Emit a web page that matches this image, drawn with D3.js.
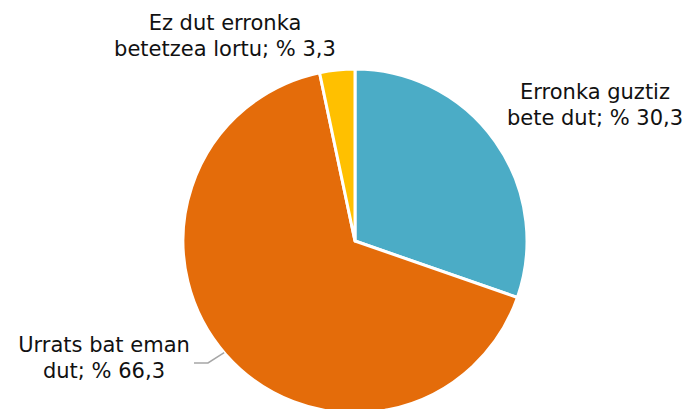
<!DOCTYPE html>
<html><head><meta charset="utf-8">
<script src="https://cdn.jsdelivr.net/npm/d3@7"></script>
<style>body{margin:0;background:#fff;}svg{display:block;}</style>
</head><body>
<svg id="chart" width="692" height="409"></svg>
<script>
const categories = ["Erronka guztiz bete dut", "Urrats bat eman dut", "Ez dut erronka betetzea lortu"];
const values = [30.3, 66.3, 3.3];
const labelLines = [["Erronka guztiz", "bete dut; % 30,3"], ["Urrats bat eman", "dut; % 66,3"], ["Ez dut erronka", "betetzea lortu; % 3,3"]];
const colors = ["#4BACC6", "#E46C0A", "#FFC000"];

const svg = d3.select("#chart");
const cx = 355, cy = 241, r = 172;
const pie = d3.pie().sort(null).value(d => d)(values);
const arc = d3.arc().innerRadius(0).outerRadius(r);
const g = svg.append("g").attr("transform", `translate(${cx},${cy})`);
g.selectAll("path").data(pie).join("path")
  .attr("d", arc).attr("fill", (d, i) => colors[i])
  .attr("stroke", "#fff").attr("stroke-width", 3).attr("stroke-linejoin", "round");

const labelPos = [
  {x: 595, y: 99},
  {x: 104, y: 352},
  {x: 225, y: 30}
];
labelPos.forEach((p, i) => {
  const t = svg.append("text").attr("x", p.x).attr("y", p.y)
    .attr("text-anchor", "middle").attr("font-family", "Verdana, DejaVu Sans, sans-serif")
    .attr("font-size", 21).attr("fill", "#111");
  labelLines[i].forEach((line, j) => {
    t.append("tspan").attr("x", p.x).attr("dy", j === 0 ? 0 : 26).text(line);
  });
});
const a = 4.006;
const ex = cx + r * Math.sin(a), ey = cy - r * Math.cos(a);
svg.append("polyline")
  .attr("points", `194,363 208,363 ${ex},${ey}`)
  .attr("fill", "none").attr("stroke", "#A6A6A6").attr("stroke-width", 1.5);
</script>
</body></html>
